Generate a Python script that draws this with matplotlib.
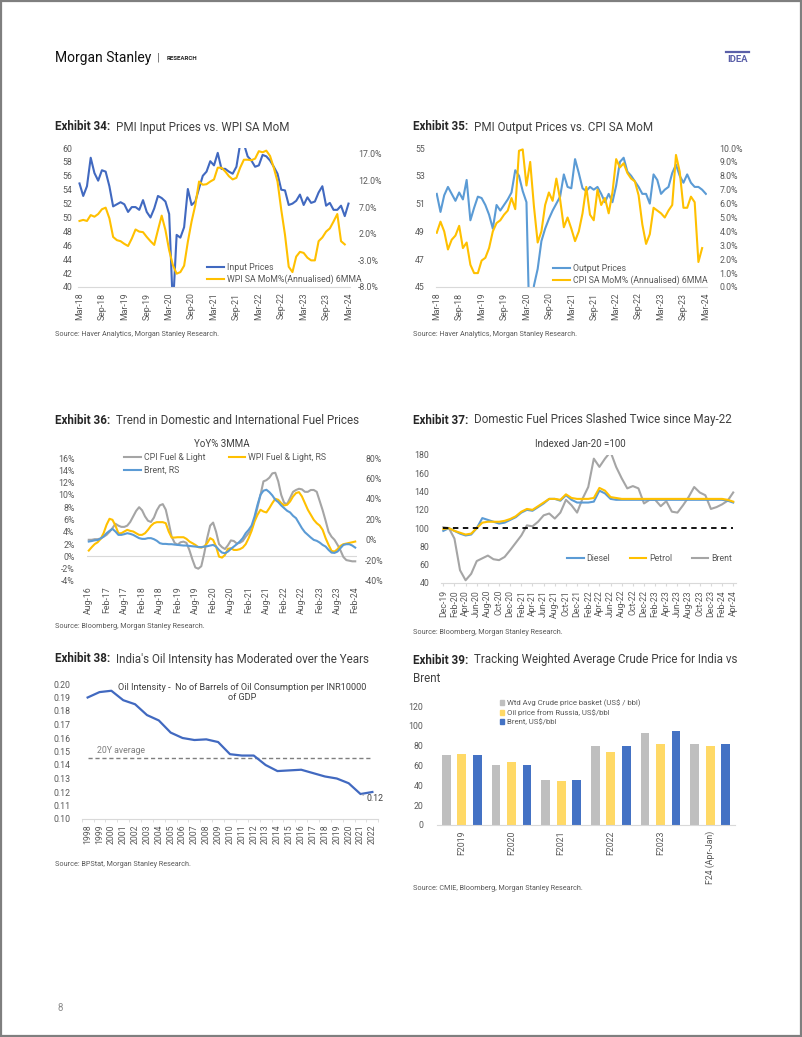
import numpy as np
import pandas as pd
import matplotlib
matplotlib.use('Agg')
import matplotlib.pyplot as plt
from matplotlib.lines import Line2D
from matplotlib.patches import Patch, Rectangle

plt.rcParams['font.family'] = ['Roboto', 'DejaVu Sans']

# ---------------- data ----------------
# Exhibit 34: monthly Mar-18 .. Mar-24
pmi_input = [54.9, 53.1, 54.5, 58.6, 56.4, 55.3, 56.8, 56.6, 54.5, 51.6,
             51.9, 52.2, 51.9, 50.8, 51.5, 51.5, 51.1, 52.5, 50.8, 50.0,
             51.3, 53.1, 52.8, 52.3, 50.5, 37.0, 47.5, 47.1, 48.6, 54.1,
             51.8, 52.3, 54.2, 56.0, 56.6, 58.1, 57.5, 59.3, 57.0, 57.0,
             56.6, 56.3, 57.3, 60.6, 60.6, 58.8, 58.2, 57.3, 57.5, 59.0,
             58.8, 58.2, 57.3, 56.3, 54.0, 53.9, 51.8, 52.0, 52.4, 53.3,
             51.8, 52.9, 52.1, 52.3, 53.6, 54.5, 51.7, 52.1, 51.1, 51.1,
             51.7, 50.2, 52.0]
wpi_6mma = [4.4, 4.6, 4.4, 5.5, 5.2, 5.7, 6.6, 6.9, 4.9, 1.4,
            0.8, 0.6, 0.1, -0.3, 1.1, 2.8, 2.4, 2.3, 1.4, 0.6,
            -0.1, 2.7, 5.4, 2.7, -1.1, -3.9, -5.5, -5.2, -4.0, 0.5,
            4.3, 7.4, 11.8, 11.2, 11.3, 11.8, 12.2, 14.4, 14.4, 13.7,
            12.8, 12.2, 12.5, 14.4, 15.9, 15.9, 15.8, 16.1, 17.5, 17.3,
            17.6, 16.6, 14.4, 11.8, 6.5, 1.8, -4.2, -5.2, -2.3, -1.4,
            -1.6, -2.5, -3.0, -3.0, 0.6, 1.3, 2.4, 3.0, 4.3, 5.7,
            0.6, 0.0]

# Exhibit 35: monthly Mar-18 .. Mar-24
pmi_output = [51.7, 50.4, 51.6, 52.2, 51.7, 51.2, 51.8, 51.3, 52.7, 49.8,
              50.7, 51.5, 51.4, 50.9, 50.2, 49.2, 50.9, 50.5, 50.9, 51.3,
              51.8, 53.4, 53.0, 51.9, 51.1, 40.0, 45.1, 46.3, 48.3, 49.2,
              49.9, 50.5, 51.0, 51.5, 53.1, 52.2, 52.1, 54.2, 53.2, 52.1,
              51.9, 52.2, 52.0, 52.2, 51.7, 51.1, 51.7, 51.1, 52.3, 54.0,
              54.3, 53.3, 53.0, 52.6, 52.2, 51.7, 51.7, 51.0, 53.1, 52.7,
              51.7, 52.0, 52.2, 53.2, 53.8, 53.0, 52.5, 53.1, 52.5, 52.2,
              52.2, 52.0, 51.7]
cpi_6mma = [3.9, 4.7, 4.0, 2.7, 3.4, 3.7, 4.4, 2.8, 3.2, 1.6,
            1.0, 1.0, 1.9, 2.1, 2.8, 4.0, 4.6, 4.8, 5.2, 5.5,
            6.4, 5.6, 9.8, 9.9, 7.3, 9.0, 5.8, 3.2, 4.0, 5.9,
            6.8, 6.2, 7.8, 6.3, 4.3, 5.0, 4.2, 3.3, 4.0, 5.3,
            7.2, 5.2, 4.8, 7.0, 5.9, 6.4, 5.3, 6.8, 9.2, 8.6,
            8.9, 8.2, 7.8, 7.6, 6.6, 4.5, 3.1, 3.8, 5.7, 5.5,
            5.3, 5.0, 5.5, 5.9, 9.5, 8.3, 5.7, 5.7, 6.5, 6.1,
            1.8, 2.8]

# Exhibit 36: monthly Aug-16 .. Feb-24 (YoY% 3MMA)
cpi_fuel = [2.7, 2.7, 2.8, 2.8, 2.9,
            3.2, 3.5, 4.0, 4.6, 5.3, 5.0, 4.8, 4.8, 5.0, 5.6, 6.5, 7.4,
            8.0, 7.5, 6.5, 5.8, 5.6, 6.3, 7.5, 8.3, 8.5, 7.6, 5.5, 3.2,
            2.2, 1.9, 2.3, 2.4, 2.2, 1.0, -0.5, -1.8, -2.0, -1.6, 0.5, 3.0,
            5.0, 5.5, 4.0, 2.0, 1.5, 1.2, 1.8, 2.6, 2.5, 2.1, 2.2, 2.5,
            3.2, 3.8, 4.5, 6.0, 8.0, 10.0, 12.2, 12.4, 12.8, 13.5, 13.6, 12.2,
            10.0, 8.7, 8.5, 9.5, 10.5, 10.8, 11.0, 10.9, 10.5, 10.5, 10.8, 10.8,
            10.5, 9.0, 7.5, 5.8, 4.0, 3.2, 2.7, 1.9, 1.0, -0.1, -0.6, -0.7,
            -0.8, -0.8]
wpi_fuel = [-10.3, -7.0, -4.0, -2.2, 1.0,
            6.6, 14.8, 20.7, 19.7, 14.1, 6.6, 6.6, 8.3, 9.9, 8.9, 8.3, 6.6,
            5.0, 5.0, 6.6, 9.9, 13.8, 16.4, 17.4, 17.4, 17.4, 16.4, 8.3, 2.4,
            2.4, 2.7, 2.7, 2.7, 1.1, -1.5, -3.1, -4.8, -7.0, -7.4, -6.4, -3.1,
            1.8, 0.1, -6.4, -16.2, -17.2, -14.6, -8.7, -8.0, -9.7, -9.7, -9.0, -7.4,
            -4.1, 1.8, 8.9, 18.1, 24.6, 29.5, 27.8, 26.9, 31.1, 36.0, 40.2, 39.2,
            36.0, 33.7, 34.4, 37.6, 42.5, 45.8, 46.7, 42.5, 36.0, 29.5, 24.6, 19.7,
            16.4, 14.1, 9.9, 1.8, -4.8, -10.6, -11.3, -9.0, -5.8, -4.1, -3.5, -2.8,
            -2.2, -1.5]
brent_yoy = [-1.5, -1.0, -0.3, 0.0, 1.5,
             3.4, 6.6, 8.9, 10.8, 8.3, 5.0, 5.0, 5.7, 6.6, 6.0, 5.0, 3.4,
             1.8, 1.1, 1.1, 1.8, 1.8, 0.8, -0.8, -3.1, -3.8, -3.8, -4.1, -4.1,
             -4.5, -4.8, -5.1, -5.4, -5.4, -5.8, -6.1, -6.4, -6.8, -7.0, -6.4, -6.1,
             -5.4, -4.8, -6.4, -9.7, -12.3, -12.9, -11.3, -8.7, -6.4, -4.1, -1.5, 1.8,
             6.6, 9.9, 14.1, 23.0, 34.4, 44.1, 48.1, 49.0, 46.7, 43.5, 39.2, 37.0,
             33.7, 31.1, 28.5, 26.9, 23.6, 21.3, 16.4, 11.5, 7.6, 5.0, 2.4, 0.1,
             -0.8, -2.5, -4.8, -6.4, -9.7, -12.3, -12.6, -11.3, -8.0, -4.8, -4.1, -4.1,
             -5.4, -7.4]

# Exhibit 37: monthly Dec-19 .. Apr-24, indexed Jan-20 = 100
diesel = [97, 100, 97, 94, 92, 93, 100, 111, 109, 107, 105, 106, 109,
          112, 117, 120, 119, 123, 127, 132, 132, 130, 136, 131, 128,
          128, 128, 129, 141, 138, 132, 131, 131, 131, 131, 131, 131,
          131, 131, 131, 131, 131, 131, 131, 131, 131, 131, 131, 131,
          131, 131, 130, 128]
petrol = [99, 100, 97, 95, 93, 94, 100, 106, 107, 107, 107, 108, 110,
          113, 118, 121, 120, 124, 128, 132, 132, 131, 137, 133, 132,
          132, 132, 133, 144, 141, 134, 133, 132, 132, 132, 132, 132,
          132, 132, 132, 132, 132, 132, 132, 132, 132, 132, 132, 132,
          132, 132, 131, 129]
brent_idx = [101, 100, 88.6, 54, 43, 50, 64, 67, 70, 66, 65, 68.5, 76,
             84, 92, 103, 102, 107, 114, 116, 110.5, 117, 131, 125, 117,
             132.5, 145, 176, 167, 176, 183.5, 167, 154.5, 143.5, 146, 143.5, 127,
             131, 131, 124, 129.5, 118, 117, 125, 134, 145, 139, 136, 121,
             123, 126, 130, 139]

# Exhibit 38
years = list(range(1998, 2023))
oil_intensity = [0.190, 0.194, 0.195, 0.188, 0.185, 0.177, 0.173, 0.164, 0.160,
                 0.1585, 0.159, 0.157, 0.148, 0.147, 0.147, 0.140, 0.1355, 0.136,
                 0.1365, 0.134, 0.1315, 0.130, 0.1265, 0.1185, 0.120]
avg_20y = 0.145

# Exhibit 39
fy = ['F2019', 'F2020', 'F2021', 'F2022', 'F2023', 'F24 (Apr-Jan)']
wtd_avg = [70.6, 60.5, 45.4, 79.7, 92.4, 81.3]
russia = [72.0, 64.0, 44.7, 73.3, 81.7, 79.7]
brent_bar = [70.6, 60.5, 45.4, 79.7, 95.1, 81.7]

# ---------------- styling ----------------
W, H = 802, 1037
TICK = '#595959'
BLUE_DK = '#4169C0'
BLUE_LT = '#5B9BD5'
YEL = '#FFC000'
GRAY = '#A5A5A5'
TFS = 6.3
TTL = 8.4

fig = plt.figure(figsize=(W / 100, H / 100), dpi=100)


def ax_px(x0, y0, x1, y1):
    return fig.add_axes([x0 / W, 1 - y1 / H, (x1 - x0) / W, (y1 - y0) / H])


def style(ax, bottom=False):
    for s in ax.spines.values():
        s.set_visible(False)
    if bottom:
        ax.spines['bottom'].set_visible(True)
        ax.spines['bottom'].set_color('#D9D9D9')
    ax.tick_params(length=0, labelsize=TFS, colors=TICK, pad=4)
    ax.set_facecolor('none')


def ftext(x, y, s, **kw):
    return fig.text(x / W, 1 - y / H, s, **kw)


def title(x, y, num, rest):
    t = ftext(x, y, f'Exhibit {num}:', fontsize=TTL, fontweight='bold',
              color='#262626', va='center')
    ann = plt.annotate(rest, xy=(1, 0), xycoords=t, xytext=(4, 0),
                       textcoords='offset points', fontsize=TTL,
                       color='#404040', va='bottom', ha='left',
                       annotation_clip=False)
    return ann


def source(x, y, s):
    ftext(x, y, s, fontsize=5.2, color=TICK, va='center')


def leg(handles, labels, x, y, **kw):
    opts = dict(loc='upper left', bbox_to_anchor=(x / W, 1 - y / H),
                frameon=False, fontsize=TFS, borderpad=0, borderaxespad=0,
                handlelength=1.9, handletextpad=0.35, labelspacing=0.3)
    opts.update(kw)
    lg = fig.legend(handles, labels, **opts)
    for t in lg.get_texts():
        t.set_color(TICK)
    return lg


# ---------------- header ----------------
ftext(55, 58, 'Morgan Stanley', fontsize=10, color='#111111', va='center')
ftext(157, 58, '|', fontsize=8, color='#555555', va='center')
ftext(167, 58.5, 'RESEARCH', fontsize=4.4, fontweight='bold', color='#222222', va='center')
fig.add_artist(Line2D([726 / W, 749 / W], [1 - 52 / H, 1 - 52 / H], color='#5A5FA8', lw=1.6))
ftext(737.5, 59, 'IDEA', fontsize=6.8, fontweight='bold', color='#5A5FA8',
      ha='center', va='center')
fig.add_artist(Rectangle((0.0008, 0.0008), 0.9984, 0.9984, transform=fig.transFigure,
                         fill=False, edgecolor='#7F7F7F', lw=1.6))
ftext(57, 1008, '8', fontsize=7, color='#8C8C8C', va='center')

# ---------------- Exhibit 34 ----------------
m34 = pd.date_range('2018-03-01', '2024-03-01', freq='MS')
lab34 = m34.strftime('%b-%y')
x = np.arange(len(m34))
ax = ax_px(78, 148, 350, 287)
style(ax, bottom=True)
ax.plot(x, pmi_input, color=BLUE_DK, lw=1.5)
ax.set_ylim(40, 60)
ax.set_yticks(range(40, 61, 2))
ax.set_xlim(-0.4, 72.4)
ax.set_xticks(x[::6])
ax.set_xticklabels(lab34[::6], rotation=90)
ax2 = ax.twinx()
style(ax2)
ax2.plot(x[:len(wpi_6mma)], wpi_6mma, color=YEL, lw=1.5)
ax2.set_ylim(-8, 18.1)
ax2.set_yticks([-8, -3, 2, 7, 12, 17])
ax2.set_yticklabels([f'{v:.1f}%' for v in [-8, -3, 2, 7, 12, 17]])
ax2.tick_params(pad=6)
leg([Line2D([], [], color=BLUE_DK, lw=1.5), Line2D([], [], color=YEL, lw=1.5)],
    ['Input Prices', 'WPI SA MoM%(Annualised) 6MMA'], 207, 263)
title(55, 127, 34, 'PMI Input Prices vs. WPI SA MoM')
source(55, 334, 'Source: Haver Analytics, Morgan Stanley Research.')

# ---------------- Exhibit 35 ----------------
ax = ax_px(436, 148, 707, 287)
style(ax, bottom=True)
ax.plot(x, pmi_output, color=BLUE_LT, lw=1.5)
ax.set_ylim(45, 55)
ax.set_yticks(range(45, 56, 2))
ax.set_xlim(-0.2, 72.3)
ax.set_xticks(x[::6])
ax.set_xticklabels(lab34[::6], rotation=90)
ax.tick_params(axis='y', pad=8)
ax2 = ax.twinx()
style(ax2)
ax2.plot(x[:len(cpi_6mma)], cpi_6mma, color=YEL, lw=1.5)
ax2.set_ylim(0, 10)
ax2.set_yticks(range(0, 11))
ax2.set_yticklabels([f'{v:.1f}%' for v in range(0, 11)])
ax2.tick_params(pad=9)
leg([Line2D([], [], color=BLUE_LT, lw=1.5), Line2D([], [], color=YEL, lw=1.5)],
    ['Output Prices', 'CPI SA MoM% (Annualised) 6MMA'], 553, 264)
title(413, 127, 35, 'PMI Output Prices vs. CPI SA MoM')
source(413, 334, 'Source: Haver Analytics, Morgan Stanley Research.')

# ---------------- Exhibit 36 ----------------
m36 = pd.date_range('2016-08-01', '2024-02-01', freq='MS')
lab36 = m36.strftime('%b-%y')
x36 = np.arange(len(m36))
ax = ax_px(87, 458, 357, 581)
style(ax)
ax.axhline(0, color='#D9D9D9', lw=0.8)
ax.plot(x36, cpi_fuel, color=GRAY, lw=1.5)
ax.set_ylim(-4, 16)
ax.set_yticks(range(-4, 17, 2))
ax.set_yticklabels([f'{v}%' for v in range(-4, 17, 2)])
ax.set_xlim(-0.6, 90.6)
ax.set_xticks(x36[::6])
ax.set_xticklabels(lab36[::6], rotation=90)
ax.tick_params(axis='y', pad=9)
ax2 = ax.twinx()
style(ax2)
ax2.plot(x36, wpi_fuel, color=YEL, lw=1.5)
ax2.plot(x36, brent_yoy, color=BLUE_LT, lw=1.5)
ax2.set_ylim(-40, 80)
ax2.set_yticks(range(-40, 81, 20))
ax2.set_yticklabels([f'{v}%' for v in range(-40, 81, 20)])
ax2.tick_params(pad=6)
ftext(222, 444, 'YoY% 3MMA', fontsize=7, color='#404040', ha='center', va='center')
leg([Line2D([], [], color=GRAY, lw=1.5), Line2D([], [], color=BLUE_LT, lw=1.5),
     Line2D([], [], color=YEL, lw=1.5)],
    ['CPI Fuel & Light', 'Brent, RS', 'WPI Fuel & Light, RS'], 124, 453,
    ncol=2, columnspacing=2.7, labelspacing=0.45)
title(55, 420, 36, 'Trend in Domestic and International Fuel Prices')
source(55, 627, 'Source: Bloomberg, Morgan Stanley Research.')

# ---------------- Exhibit 37 ----------------
m37 = pd.date_range('2019-12-01', '2024-04-01', freq='MS')
lab37 = m37.strftime('%b-%y')
x37 = np.arange(len(m37))
ax = ax_px(440.5, 455, 736, 583)
style(ax, bottom=True)
ax.plot(x37, brent_idx, color=GRAY, lw=1.5)
ax.plot(x37, diesel, color=BLUE_LT, lw=1.5)
ax.plot(x37, petrol, color=YEL, lw=1.5)
ax.plot(x37, [100] * len(x37), color='black', lw=1.3, ls=(0, (3, 2.5)))
ax.set_ylim(40, 180)
ax.set_yticks(range(40, 181, 20))
ax.set_xlim(-0.5, 52.5)
ax.set_xticks(x37[::2])
ax.set_xticklabels(lab37[::2], rotation=90)
ax.tick_params(axis='x', length=2, color='#D9D9D9', pad=3)
ax.tick_params(axis='y', pad=8)
ftext(580, 444, 'Indexed Jan-20 =100', fontsize=7, color='#404040', ha='center', va='center')
leg([Line2D([], [], color=BLUE_LT, lw=1.5), Line2D([], [], color=YEL, lw=1.5),
     Line2D([], [], color=GRAY, lw=1.5)],
    ['Diesel', 'Petrol', 'Brent'], 567, 554, ncol=3, columnspacing=2.2)
title(413, 420, 37, 'Domestic Fuel Prices Slashed Twice since May-22')
source(413, 633, 'Source: Bloomberg, Morgan Stanley Research.')

# ---------------- Exhibit 38 ----------------
x38 = np.arange(len(years))
ax = ax_px(81.7, 684, 378.3, 819)
style(ax, bottom=True)
ax.plot(x38, [avg_20y] * len(x38), color='#7F7F7F', lw=1.0, ls=(0, (3, 2)))
ax.plot(x38, oil_intensity, color=BLUE_DK, lw=1.6)
ax.set_ylim(0.10, 0.20)
ax.set_yticks(np.linspace(0.10, 0.20, 11))
ax.set_yticklabels([f'{v:.2f}' for v in np.linspace(0.10, 0.20, 11)])
ax.set_xlim(-0.45, 24.45)
ax.set_xticks(x38)
ax.set_xticklabels([str(y) for y in years], rotation=90)
ax.set_xticks(np.append(x38 - 0.5, x38[-1] + 0.5), minor=True)
ax.tick_params(axis='x', which='minor', length=2.5, color='#D9D9D9')
ax.tick_params(axis='x', pad=4)
ax.tick_params(axis='y', pad=8)
ax.text(0.8, 0.1505, '20Y average', fontsize=6.3, color='#7F7F7F', va='center')
ax.annotate(f'{oil_intensity[-1]:.2f}', xy=(x38[-2] + 0.1, oil_intensity[-2] - 0.0005),
            xytext=(x38[-1] - 0.5, 0.1152), fontsize=6.3, color='#404040', va='center',
            arrowprops=dict(arrowstyle='-', color='#A6A6A6', lw=0.6), annotation_clip=False)
ftext(241.7, 687.5, 'Oil Intensity -  No of Barrels of Oil Consumption per INR10000',
      fontsize=6.6, color='#404040', ha='center', va='center')
ftext(241.7, 697.5, 'of GDP', fontsize=6.6, color='#404040', ha='center', va='center')
title(55, 659, 38, "India's Oil Intensity has Moderated over the Years")
source(55, 864, 'Source: BPStat, Morgan Stanley Research.')

# ---------------- Exhibit 39 ----------------
x39 = np.arange(len(fy))
ax = ax_px(437, 706, 735, 825)
style(ax, bottom=True)
bw = 0.175
off = 0.31
ax.bar(x39 - off, wtd_avg, bw, color='#BFBFBF')
ax.bar(x39, russia, bw, color='#FFD966')
ax.bar(x39 + off, brent_bar, bw, color='#4472C4')
ax.set_ylim(0, 120)
ax.set_yticks(range(0, 121, 20))
ax.set_xlim(-0.5, 5.5)
ax.set_xticks(x39)
ax.set_xticklabels(fy, rotation=90)
ax.tick_params(axis='y', pad=10)
leg([Patch(color='#BFBFBF'), Patch(color='#FFD966'), Patch(color='#4472C4')],
    ['Wtd Avg Crude price basket (US$ / bbl)', 'Oil price from Russia, US$/bbl',
     'Brent, US$/bbl'], 500, 699, fontsize=5.6, handlelength=0.55, handleheight=0.55,
    handletextpad=0.3, labelspacing=0.35)
title(413, 660, 39, 'Tracking Weighted Average Crude Price for India vs')
ftext(413, 678, 'Brent', fontsize=TTL, color='#404040', va='center')
source(413, 888, 'Source: CMIE, Bloomberg, Morgan Stanley Research.')

fig.savefig('out.png', dpi=100)
